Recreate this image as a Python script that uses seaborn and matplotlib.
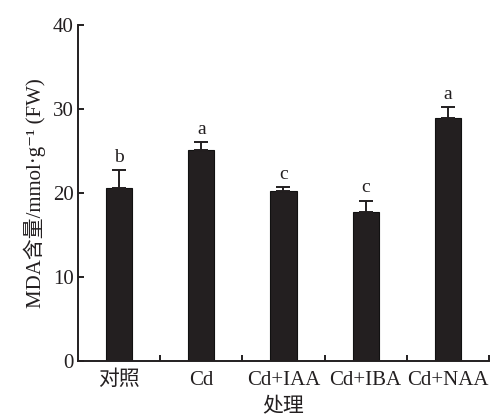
import matplotlib
matplotlib.use("Agg")
import matplotlib.pyplot as plt
import matplotlib.ticker as mticker
import seaborn as sns
import pandas as pd

sns.set_theme(style="ticks")
plt.rcParams["font.family"] = ["Liberation Serif", "Noto Sans CJK SC", "DejaVu Serif"]

categorias = ["对照", "Cd", "Cd+IAA", "Cd+IBA", "Cd+NAA"]
mda = [20.6, 25.1, 20.3, 17.7, 28.9]
error = [2.1, 1.0, 0.4, 1.4, 1.3]
letras = ["b", "a", "c", "c", "a"]

df = pd.DataFrame({"tratamiento": categorias, "mda": mda})

fig = plt.figure(figsize=(4.9, 4.17), dpi=100)
ax = fig.add_axes([0.159, 0.134, 0.839, 0.806])

sns.barplot(data=df, x="tratamiento", y="mda", color="#231f20", saturation=1,
            width=0.32, edgecolor="#111111", linewidth=0.8, ax=ax)
xs = range(len(categorias))
ax.errorbar(xs, mda, yerr=[[0] * len(error), error], fmt="none",
            ecolor="#231f20", elinewidth=1.4, capsize=5, capthick=1.4)
for x, v, e, l in zip(xs, mda, error, letras):
    ax.text(x, v + e + 0.5, l, ha="center", va="bottom", fontsize=14, color="#231f20")

ax.set_xlim(-0.5, 4.5)
ax.set_ylim(0, 40)
ax.set_yticks([0, 10, 20, 30, 40])
ax.xaxis.set_minor_locator(mticker.FixedLocator([0.5, 1.5, 2.5, 3.5, 4.5]))
ax.tick_params(axis="x", which="major", length=0, labelsize=15, pad=7, colors="#231f20")
ax.tick_params(axis="x", which="minor", direction="in", length=4, width=1.4, color="#231f20")
ax.tick_params(axis="y", direction="in", length=4, width=1.4, labelsize=15, pad=3, colors="#231f20")
for s in ["top", "right"]:
    ax.spines[s].set_visible(False)
for s in ["left", "bottom"]:
    ax.spines[s].set_linewidth(1.4)
    ax.spines[s].set_color("#231f20")

ax.set_xlabel("处理", fontsize=15, labelpad=6, color="#231f20")
ax.set_ylabel("MDA含量/mmol·g⁻¹ (FW)", fontsize=15, labelpad=5, color="#231f20")

fig.savefig("out.png", dpi=100)
